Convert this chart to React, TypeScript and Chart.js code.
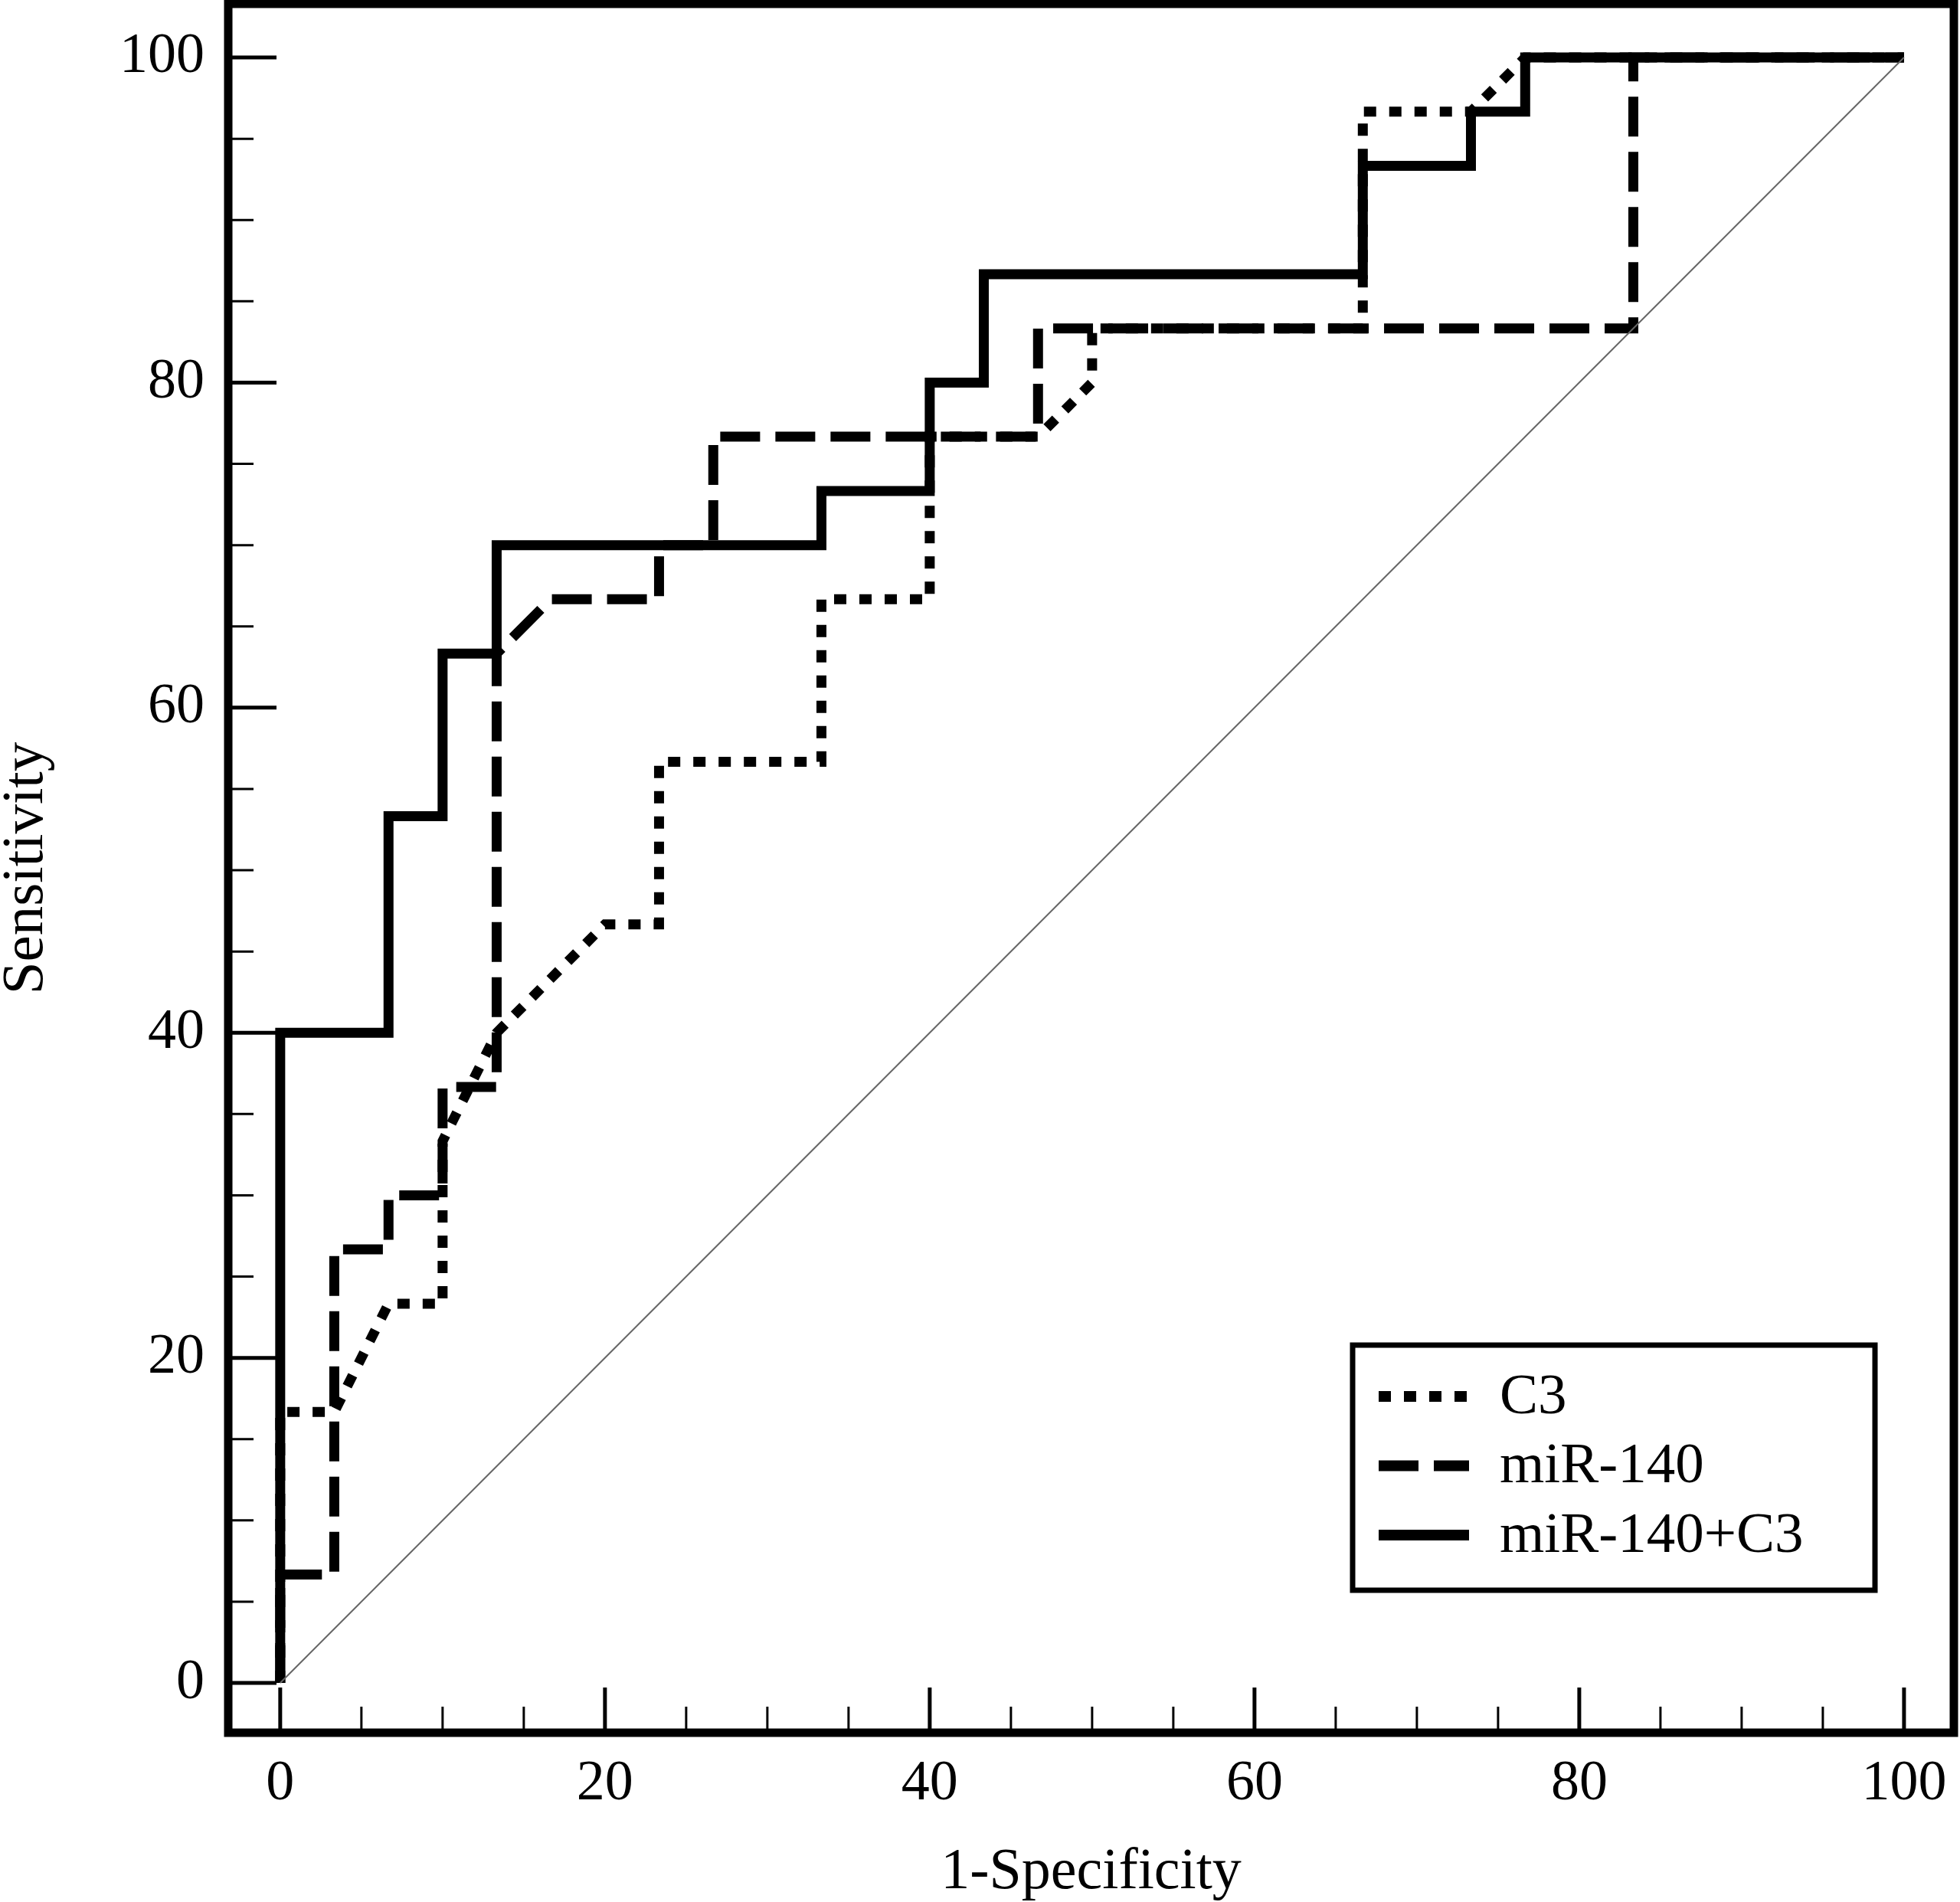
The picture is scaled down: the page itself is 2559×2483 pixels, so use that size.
import { useEffect, useRef } from "react"
import { Chart, registerables } from "chart.js"

Chart.register(...registerables)

// ROC curves, 1-specificity (%) vs sensitivity (%)
const c3X = [0, 0, 3.33, 6.67, 10, 10, 13.33, 20, 23.33, 23.33, 33.33, 33.33, 40, 40, 46.67, 50, 50, 66.67, 66.67, 73.33, 76.67, 100]
const c3Y = [0, 16.67, 16.67, 23.33, 23.33, 33.33, 40, 46.67, 46.67, 56.67, 56.67, 66.67, 66.67, 76.67, 76.67, 80, 83.33, 83.33, 96.67, 96.67, 100, 100]

const mirX = [0, 0, 3.33, 3.33, 6.67, 6.67, 10, 10, 13.33, 13.33, 16.67, 23.33, 23.33, 26.67, 26.67, 46.67, 46.67, 83.33, 83.33, 100]
const mirY = [0, 6.67, 6.67, 26.67, 26.67, 30, 30, 36.67, 36.67, 63.33, 66.67, 66.67, 70, 70, 76.67, 76.67, 83.33, 83.33, 100, 100]

const combX = [0, 0, 6.67, 6.67, 10, 10, 13.33, 13.33, 33.33, 33.33, 40, 40, 43.33, 43.33, 66.67, 66.67, 73.33, 73.33, 76.67, 76.67, 100]
const combY = [0, 40, 40, 53.33, 53.33, 63.33, 63.33, 70, 70, 73.33, 73.33, 80, 80, 86.67, 86.67, 93.33, 93.33, 96.67, 96.67, 100, 100]

const refX = [0, 100]
const refY = [0, 100]

const xTicks = [0, 20, 40, 60, 80, 100]
const yTicks = [0, 20, 40, 60, 80, 100]
const minorStep = 5

const FONT = "'Liberation Serif', 'Times New Roman', serif"

const toPoints = (xs: number[], ys: number[]) => xs.map((x, i) => ({ x, y: ys[i] }))

// frame around the plot with inward tick marks
const framePlugin = {
  id: "frame",
  afterDatasetsDraw(chart: any) {
    const { ctx, chartArea: a, scales } = chart
    ctx.save()
    ctx.strokeStyle = "#000"
    ctx.lineCap = "butt"
    for (let v = 0; v <= 100; v += minorStep) {
      const major = v % 20 === 0
      ctx.lineWidth = major ? 5 : 3
      const py = scales.y.getPixelForValue(v)
      ctx.beginPath()
      ctx.moveTo(a.left, py)
      ctx.lineTo(a.left + (major ? 63 : 33), py)
      ctx.stroke()
      const px = scales.x.getPixelForValue(v)
      ctx.beginPath()
      ctx.moveTo(px, a.bottom)
      ctx.lineTo(px, a.bottom - (major ? 59 : 34))
      ctx.stroke()
    }
    ctx.lineWidth = 11
    ctx.strokeRect(a.left, a.top, a.right - a.left, a.bottom - a.top)
    ctx.restore()
  },
}

// boxed legend in the lower right
const legendPlugin = {
  id: "boxLegend",
  afterDraw(chart: any) {
    const { ctx } = chart
    const order = [1, 2, 3]
    ctx.save()
    ctx.fillStyle = "#fff"
    ctx.fillRect(1766, 1756, 682, 320)
    ctx.strokeStyle = "#000"
    ctx.lineWidth = 7
    ctx.strokeRect(1766, 1756, 682, 320)
    order.forEach((di, i) => {
      const ds = chart.data.datasets[di]
      const y = 1823 + i * 90.5
      ctx.beginPath()
      ctx.lineWidth = 14
      ctx.lineCap = "butt"
      ctx.setLineDash(ds.borderDash || [])
      ctx.moveTo(1800, y)
      ctx.lineTo(1918, y)
      ctx.stroke()
      ctx.setLineDash([])
      ctx.fillStyle = "#000"
      ctx.font = `75px ${FONT}`
      ctx.textAlign = "left"
      ctx.textBaseline = "middle"
      ctx.fillText(ds.label, 1958, y + 2)
    })
    ctx.restore()
  },
}

const zeroPadding = (s: any) => {
  s.paddingTop = 0
  s.paddingBottom = 0
  s.paddingLeft = 0
  s.paddingRight = 0
}

export default function App() {
  const canvasRef = useRef<HTMLCanvasElement>(null)
  const chartRef = useRef<Chart | null>(null)

  useEffect(() => {
    document.body.style.margin = "0"
    if (!canvasRef.current) return
    if (chartRef.current) chartRef.current.destroy()
    const ctx = canvasRef.current.getContext("2d")
    if (!ctx) return

    chartRef.current = new Chart(ctx, {
      type: "scatter",
      data: {
        datasets: [
          {
            label: "reference",
            data: toPoints(refX, refY),
            showLine: true,
            borderColor: "#666",
            borderWidth: 2,
            pointRadius: 0,
          },
          {
            label: "C3",
            data: toPoints(c3X, c3Y),
            showLine: true,
            borderColor: "#000",
            borderWidth: 13,
            borderDash: [16, 17],
            borderCapStyle: "butt",
            borderJoinStyle: "miter",
            pointRadius: 0,
          },
          {
            label: "miR-140",
            data: toPoints(mirX, mirY),
            showLine: true,
            borderColor: "#000",
            borderWidth: 13,
            borderDash: [52, 20],
            borderCapStyle: "butt",
            borderJoinStyle: "miter",
            pointRadius: 0,
          },
          {
            label: "miR-140+C3",
            data: toPoints(combX, combY),
            showLine: true,
            borderColor: "#000",
            borderWidth: 13,
            borderCapStyle: "butt",
            borderJoinStyle: "miter",
            pointRadius: 0,
          },
        ],
      },
      options: {
        animation: false,
        responsive: false,
        devicePixelRatio: 1,
        events: [],
        layout: { padding: { top: 5, right: 8, left: 0, bottom: 0 } },
        plugins: {
          legend: { display: false },
          tooltip: { enabled: false },
        },
        scales: {
          x: {
            type: "linear",
            min: -3.2,
            max: 103.07,
            afterBuildTicks: (s: any) => {
              s.ticks = xTicks.map((value) => ({ value }))
            },
            afterFit: (s: any) => {
              s.height = 221
              zeroPadding(s)
            },
            grid: { display: false, drawTicks: false },
            border: { display: false },
            ticks: {
              autoSkip: false,
              maxRotation: 0,
              padding: 23,
              color: "#000",
              font: { family: FONT, size: 74 },
            },
            title: {
              display: true,
              text: "1-Specificity",
              color: "#000",
              font: { family: FONT, size: 76, lineHeight: 1.0 },
              padding: { top: 0, bottom: 0 },
            },
          },
          y: {
            type: "linear",
            min: -3.06,
            max: 103.3,
            afterBuildTicks: (s: any) => {
              s.ticks = yTicks.map((value) => ({ value }))
            },
            afterFit: (s: any) => {
              s.width = 298
              zeroPadding(s)
            },
            grid: { display: false, drawTicks: false },
            border: { display: false },
            ticks: {
              autoSkip: false,
              padding: 31,
              color: "#000",
              font: { family: FONT, size: 74 },
            },
            title: {
              display: true,
              text: "Sensitivity",
              color: "#000",
              font: { family: FONT, size: 77, lineHeight: 0.9 },
              padding: { top: 0, bottom: 0 },
            },
          },
        },
      },
      plugins: [framePlugin, legendPlugin],
    } as any)

    return () => {
      if (chartRef.current) {
        chartRef.current.destroy()
        chartRef.current = null
      }
    }
  }, [])

  return (
    <div style={{ position: "absolute", left: 0, top: 0, width: 2559, height: 2483, background: "#fff" }}>
      <canvas ref={canvasRef} width={2559} height={2483} style={{ width: 2559, height: 2483, display: "block" }} />
    </div>
  )
}
